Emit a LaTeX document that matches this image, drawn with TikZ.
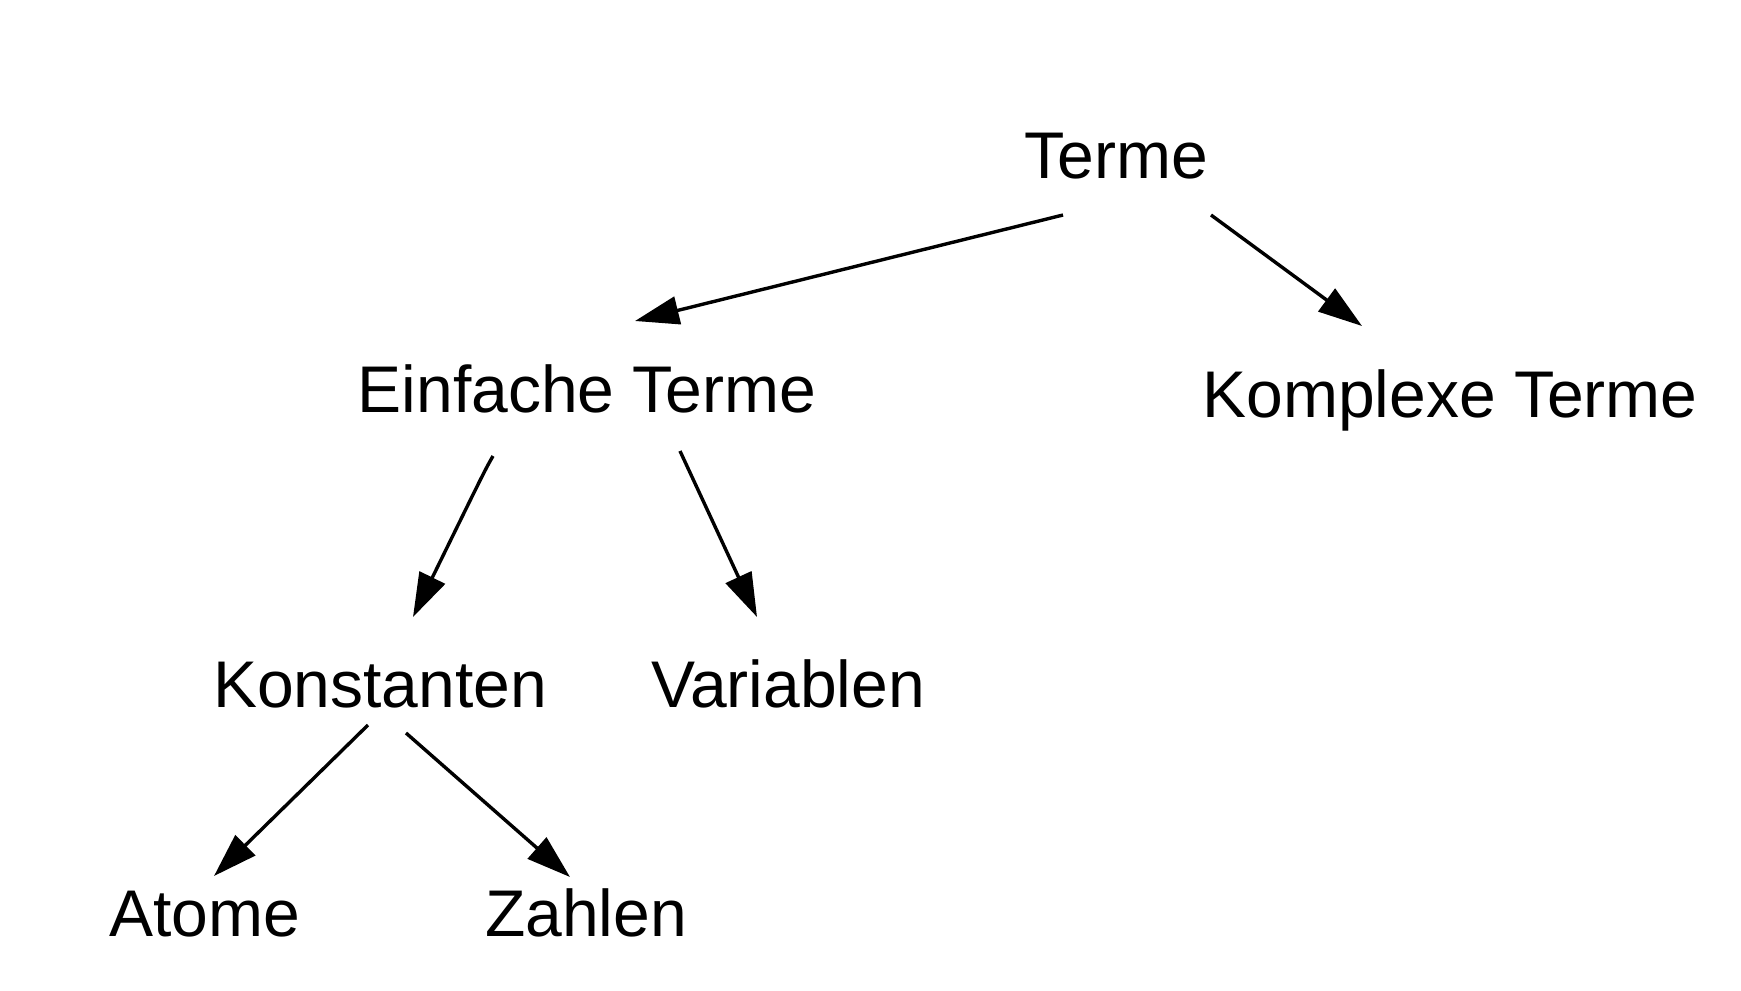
\documentclass[tikz,border=0pt]{standalone}
\usepackage{fontspec}
\setmainfont{Liberation Sans}
\usetikzlibrary{arrows.meta}
\begin{document}
\begin{tikzpicture}[x=0.5pt,y=-0.5pt,
  lbl/.style={anchor=base,inner sep=0pt,font=\fontsize{33}{39}\selectfont},
  conn/.style={line width=1.7pt,-{Triangle[length=22pt,width=14pt]}}]
\useasboundingbox (0,0) rectangle (1741,991);
\node[lbl] (terme) at (1116,178) {Terme};
\node[lbl] (einf) at (587,412) {Einfache Terme};
\node[lbl] (kompl) at (1450,417) {Komplexe Terme};
\node[lbl] (konst) at (380,707) {Konstanten};
\node[lbl] (var) at (788,707) {Variablen};
\node[lbl] (atome) at (205,936) {Atome};
\node[lbl] (zahlen) at (586,936) {Zahlen};
\coordinate (a1) at (1063,215); \coordinate (b1) at (635,321);
\coordinate (a2) at (1211,215); \coordinate (b2) at (1362,326);
\coordinate (a3) at (493,456);  \coordinate (b3) at (413,617);
\coordinate (a4) at (680,451);  \coordinate (b4) at (757,617);
\coordinate (a5) at (368,725);  \coordinate (b5) at (214,876);
\coordinate (a6) at (406,733);  \coordinate (b6) at (570,877);
\draw[conn] (a1) -- (b1);
\draw[conn] (a2) -- (b2);
\draw[conn] (a3) .. controls (485,470) .. (b3);
\draw[conn] (a4) -- (b4);
\draw[conn] (a5) -- (b5);
\draw[conn] (a6) -- (b6);
\end{tikzpicture}
\end{document}
